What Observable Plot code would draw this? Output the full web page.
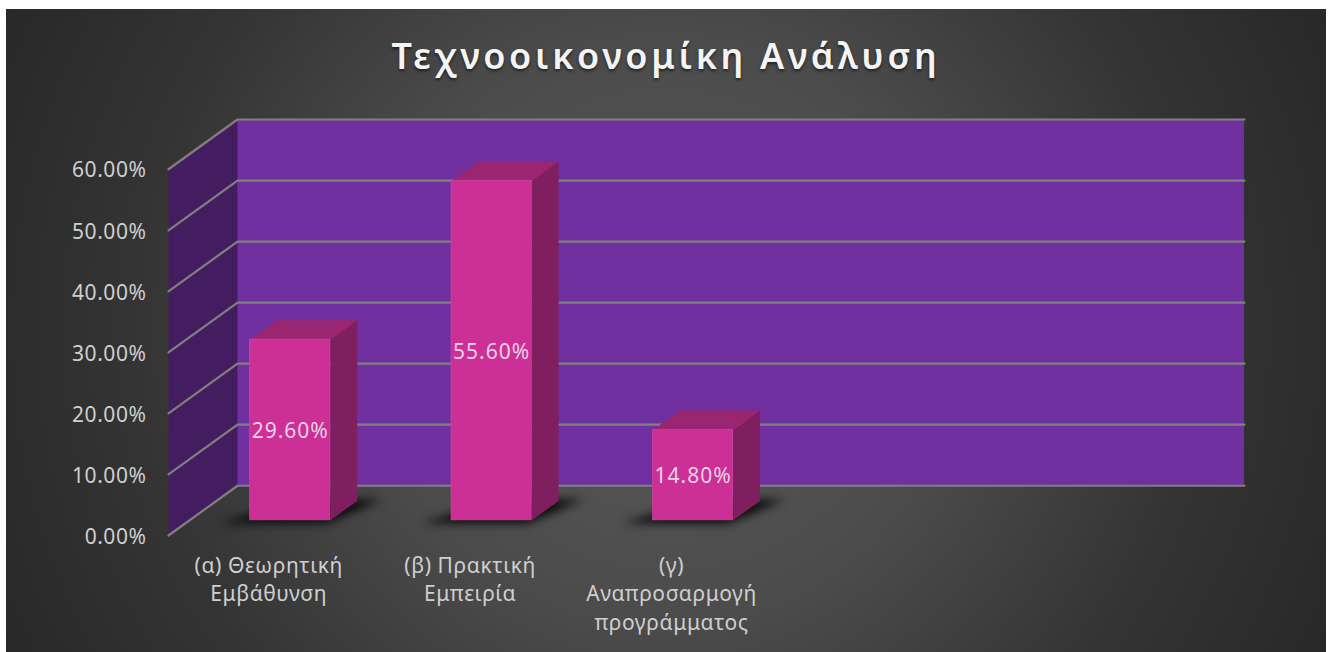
<!DOCTYPE html>
<html lang="el">
<head>
<meta charset="utf-8">
<script src="https://cdn.jsdelivr.net/npm/d3@7"></script>
<script src="https://cdn.jsdelivr.net/npm/@observablehq/plot@0.6"></script>
<style>
  html, body { margin: 0; padding: 0; background: #fff; }
  body { width: 1330px; height: 652px; position: relative; overflow: hidden; font-family: "Noto Sans", sans-serif; }
  #frame { position: absolute; left: 6px; top: 9px; width: 1320px; height: 643px;
    background: radial-gradient(circle 735px at 50% 50%, #5a5a5a 0%, #4b4b4b 40%, #343434 72%, #282828 100%); }
  #title { position: absolute; left: 6px; top: 33px; width: 1320px; margin: 0; text-align: center;
    font: 600 36px/46px "Noto Sans", sans-serif; letter-spacing: 3.7px; color: #f4f4f4;
    text-shadow: 0 2px 3px rgba(0,0,0,.55); }
  #chart { position: absolute; left: 0; top: 0; }
  #chart g[aria-label="y-axis tick label"] text { letter-spacing: 0.55px; }
  #chart g[aria-label="x-axis tick label"] text { letter-spacing: 0.6px; }
  #chart g[aria-label="text"] text { letter-spacing: 1px; }
</style>
</head>
<body>
<div id="frame"></div>
<h1 id="title">Τεχνοοικονομίκη Ανάλυση</h1>
<div id="chart"></div>
<script>
const categories = ["(α) Θεωρητική\nΕμβάθυνση", "(β) Πρακτική\nΕμπειρία", "(γ)\nΑναπροσαρμογή\nπρογράμματος"];
const values = [29.6, 55.6, 14.8];
const percentTicks = [0, 10, 20, 30, 40, 50, 60];
const slots = 5;

// Oblique projection: depth Z (0 = front, 1 = back) shifts a point along both plot scales.
const kx = 0.3426, ky = 8.15;
const barWidth = 0.398, z0 = 0.305, z1 = 0.695;
const P = (X, Y, Z) => ({x: X + kx * Z, y: Y + ky * Z});

const C = {wall: "#70309f", side: "#441d60", grid: "#808080", bar: "#cc3096", edge: "#d2459f", top: "#9a2570", barSide: "#7f1f5f", tick: "#cfcfcf"};

const sideWall = [P(0, 0, 0), P(0, 0, 1), P(0, 60, 1), P(0, 60, 0)];
const gridRows = percentTicks.flatMap(v => [P(0, v, 0), P(0, v, 1), P(slots, v, 1)].map(p => ({...p, v})));

const bars = values.map((v, i) => ({i, v, x1: i + 0.5 - barWidth / 2, x2: i + 0.5 + barWidth / 2}));
const topFaces = bars.flatMap(b => [P(b.x1, b.v, z0), P(b.x2, b.v, z0), P(b.x2, b.v, z1), P(b.x1, b.v, z1)].map(p => ({...p, i: b.i})));
const sideFaces = bars.flatMap(b => [P(b.x2, 0, z0), P(b.x2, b.v, z0), P(b.x2, b.v, z1), P(b.x2, 0, z1)].map(p => ({...p, i: b.i})));
const shadows = bars.flatMap(b => [P(b.x1 - 0.13, 0, z0 - 0.06), P(b.x2, 0, z0 - 0.06), P(b.x2 + 0.11, 0, z1 + 0.03), P(b.x1 + 0.1, 0, z1 + 0.03)].map(p => ({...p, i: b.i})));
const face = (data, fill, extra = {}) => Plot.line(data, {x: "x", y: "y", z: "i", fill, stroke: "none", curve: "linear-closed", ...extra});

const chart = Plot.plot({
  width: 1330, height: 652,
  marginLeft: 168, marginRight: 86, marginTop: 119, marginBottom: 117,
  style: {background: "transparent", fontFamily: '"Noto Sans", sans-serif'},
  x: {type: "linear", domain: [0, slots + kx]},
  y: {type: "linear", domain: [0, 60 + ky]},
  marks: [
    Plot.rect([0], {x1: kx, x2: slots + kx, y1: ky, y2: 60 + ky, fill: C.wall}),
    face(sideWall.map(p => ({...p, i: 0})), C.side),
    Plot.line(gridRows, {x: "x", y: "y", z: "v", stroke: C.grid, strokeWidth: 2.2}),
    face(shadows, "#060606", {fillOpacity: 0.95, imageFilter: "blur(5px)"}),
    face(sideFaces, C.barSide),
    face(topFaces, C.top),
    Plot.rect(bars, {x1: b => P(b.x1, 0, z0).x, x2: b => P(b.x2, 0, z0).x, y1: P(0, 0, z0).y, y2: b => P(0, b.v, z0).y, fill: C.bar, stroke: C.edge, strokeWidth: 0.7}),
    Plot.text(bars, {x: b => P(b.i + 0.5, 0, z0).x, y: b => P(0, b.v / 2, z0).y, text: b => b.v.toFixed(2) + "%", fill: "#e8d2e2", fontSize: 21, dy: 1.5}),
    Plot.axisY({anchor: "left", ticks: percentTicks, tickFormat: d => d.toFixed(2) + "%", tickSize: 0, tickPadding: 22, fontSize: 21, fill: C.tick, label: null, dy: 1.5}),
    Plot.axisX({anchor: "bottom", ticks: categories.map((_, i) => i + 0.5), tickFormat: d => categories[d - 0.5], tickSize: 0, tickPadding: 17, fontSize: 21, fill: C.tick, lineHeight: 1.36, label: null, dx: -0.5})
  ]
});
document.getElementById("chart").append(chart);
</script>
</body>
</html>
